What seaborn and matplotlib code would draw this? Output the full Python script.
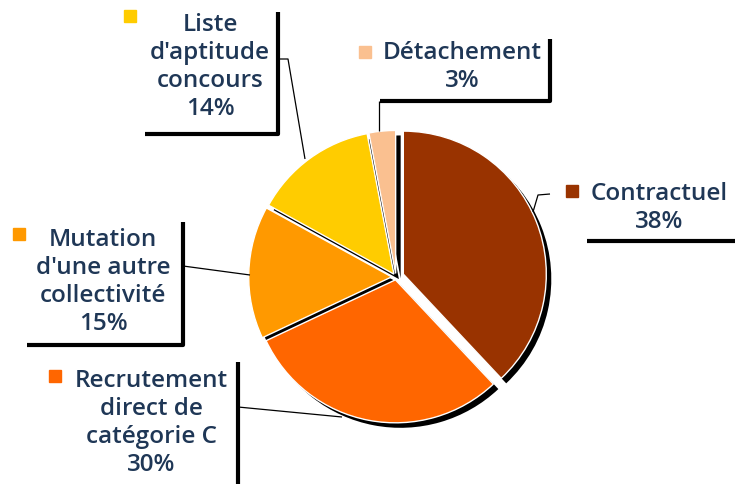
import matplotlib
matplotlib.use("Agg")
import matplotlib.pyplot as plt
from matplotlib.lines import Line2D
from matplotlib.patches import Rectangle
import seaborn as sns

sns.set_theme(style="white")
plt.rcParams['font.family'] = ['Open Sans', 'DejaVu Sans']

# ---- data ----
categories = ["Contractuel", "Recrutement\ndirect de\ncatégorie C",
              "Mutation\nd'une autre\ncollectivité", "Liste\nd'aptitude\nconcours",
              "Détachement"]
values = [38, 30, 15, 14, 3]
colors = ["#993300", "#FF6600", "#FF9900", "#FFCC00", "#FAC090"]

W, H = 735, 485
fig = plt.figure(figsize=(W / 100, H / 100), dpi=100)
fig.patch.set_facecolor("white")

# pie geometry in pixels
cx, cy, r = 396, 278, 143
ax = fig.add_axes([0, 0, 1, 1])
explode = [0.055, 0.02, 0.03, 0.025, 0.025]
sh = 5 / r
ax.pie(values, colors=["black"] * 5, startangle=90, counterclock=False,
       radius=1, center=(sh, -sh), explode=explode,
       wedgeprops=dict(linewidth=0))
ax.pie(values, colors=colors, startangle=90, counterclock=False,
       radius=1, center=(0, 0), explode=explode,
       wedgeprops=dict(linewidth=1.0, edgecolor="white"))
ax.set_xlim((0 - cx) / r, (W - cx) / r)
ax.set_ylim((cy - H) / r, cy / r)
ax.set_aspect("auto")
ax.axis("off")

tc = "#1F3756"
fs = 17.5

def P(x, y):
    return x / W, 1 - y / H

def line(pts, lw):
    xs = [p[0] / W for p in pts]
    ys = [1 - p[1] / H for p in pts]
    fig.add_artist(Line2D(xs, ys, transform=fig.transFigure, color="black",
                          lw=lw, solid_capstyle="butt", zorder=5))

def square(x, y, c, s=12):
    fig.add_artist(Rectangle(((x - s / 2) / W, 1 - (y + s / 2) / H), s / W, s / H,
                             transform=fig.transFigure, color=c, zorder=5))

def label(x, y, txt):
    fig.text(*P(x, y), txt, ha="center", va="center", fontsize=fs,
             fontweight="semibold", color=tc, linespacing=1.22, zorder=6)

pct = [f"{v}%" for v in values]

# Contractuel
label(659, 208, categories[0] + "\n" + pct[0])
square(572, 192, colors[0])
line([(587, 242), (735, 242)], 3)
line([(550, 195), (538, 196), (533, 213)], 0.9)

# Recrutement
label(151, 423, categories[1] + "\n" + pct[1])
square(55, 377, colors[1])
line([(238, 363), (238, 485)], 3)
line([(238, 408), (342, 418)], 0.9)

# Mutation
label(103, 282, categories[2] + "\n" + pct[2])
square(19, 235, colors[2])
line([(183, 223), (183, 346), (27, 346)], 3)
line([(183, 267), (250, 276)], 0.9)

# Liste
label(210, 67, categories[3] + "\n" + pct[3])
square(130, 17, colors[3])
line([(278, 13), (278, 135), (145, 135)], 3)
line([(280, 60), (288, 60), (305, 160)], 0.9)

# Détachement
label(462, 67, categories[4] + "\n" + pct[4])
square(365, 53, colors[4])
line([(550, 40), (550, 102), (380, 102)], 3)
line([(379, 102), (379, 132)], 0.9)

fig.savefig("out.png", dpi=100, facecolor="white")
